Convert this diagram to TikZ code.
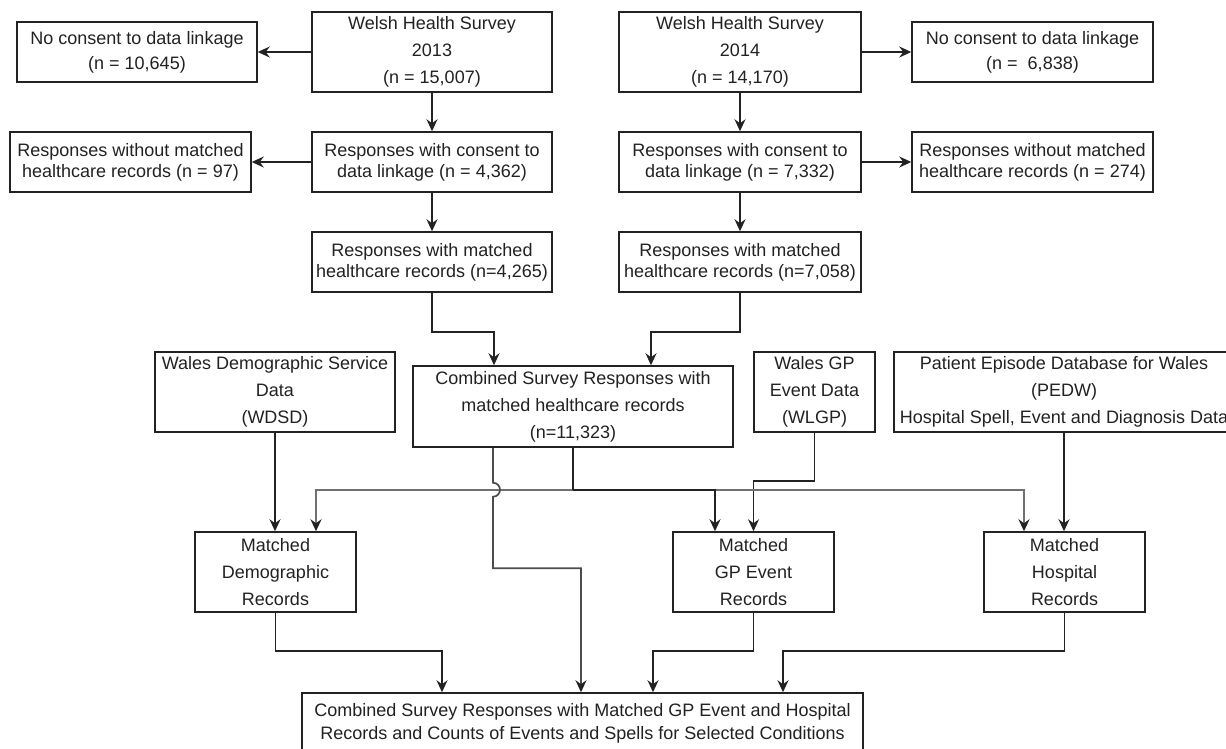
\documentclass[tikz,border=0pt]{standalone}
\usepackage{fontspec}
\setmainfont{Liberation Sans}
\usetikzlibrary{arrows.meta}
\definecolor{ink}{HTML}{222222}
\definecolor{branchgray}{HTML}{707070}
\begin{document}
\begin{tikzpicture}[x=1pt,y=-1pt,
  box/.style={draw=ink, line width=1.5pt, fill=white, inner sep=0pt, align=center, text=ink,
              font=\fontsize{18}{21}\selectfont},
  tall/.style={font=\fontsize{18}{27}\selectfont},
  mid/.style={font=\fontsize{18}{25}\selectfont},
  tip/.style={-{Stealth[length=12pt,width=11pt,inset=4pt,color=ink]}},
  arr/.style={draw=ink, line width=1.6pt, tip},
  branch/.style={draw=branchgray, line width=2.2pt, tip},
  trunkline/.style={draw=ink, line width=2.4pt},
  jumpline/.style={draw=black!70, line width=1.7pt, tip}
]
\useasboundingbox (0,0) rectangle (1226,748);
\clip (0,0) rectangle (1226,748);
\fill[white] (0,0) rectangle (1226,748);

% ---- 2013 column
\node[box, tall, minimum width=240pt, minimum height=80pt] (whs13) at (432,52) {Welsh Health Survey\\2013\\(n = 15,007)};
\node[box, mid, minimum width=240pt, minimum height=60pt] (nc13) at (137,52) {No consent to data linkage\\(n = 10,645)};
\node[box, minimum width=240pt, minimum height=60pt] (rc13) at (432,162) {Responses with consent to\\data linkage (n = 4,362)};
\node[box, minimum width=241pt, minimum height=60pt] (rw13) at (130.5,162) {Responses without matched\\healthcare records (n = 97)};
\node[box, minimum width=240pt, minimum height=60pt] (m13) at (432,262) {Responses with matched\\healthcare records (n=4,265)};

% ---- 2014 column
\node[box, tall, minimum width=242pt, minimum height=80pt] (whs14) at (740,52) {Welsh Health Survey\\2014\\(n = 14,170)};
\node[box, mid, minimum width=241pt, minimum height=60pt] (nc14) at (1032.5,52) {No consent to data linkage\\(n = \ 6,838)};
\node[box, minimum width=242pt, minimum height=60pt] (rc14) at (740,162) {Responses with consent to\\data linkage (n = 7,332)};
\node[box, minimum width=241pt, minimum height=60pt] (rw14) at (1032.5,162) {Responses without matched\\healthcare records (n = 274)};
\node[box, minimum width=242pt, minimum height=60pt] (m14) at (740,262) {Responses with matched\\healthcare records (n=7,058)};

% ---- middle row
\node[box, tall, minimum width=240pt, minimum height=80pt] (wdsd) at (275,392) {Wales Demographic Service\\Data\\(WDSD)};
\node[box, tall, minimum width=320pt, minimum height=81pt] (comb) at (573,406.5) {Combined Survey Responses with\\matched healthcare records\\(n=11,323)};
\node[box, tall, minimum width=121pt, minimum height=80pt] (wlgp) at (814.5,392) {Wales GP\\Event Data\\(WLGP)};
\node[box, tall, minimum width=340pt, minimum height=80pt] (pedw) at (1064,392) {Patient Episode Database for Wales\\(PEDW)\\Hospital Spell, Event and Diagnosis Data};

% ---- matched row
\node[box, tall, minimum width=161pt, minimum height=80pt] (mdemo) at (275.5,572) {Matched\\Demographic\\Records};
\node[box, tall, minimum width=161pt, minimum height=80pt] (mgp) at (753.5,572) {Matched\\GP Event\\Records};
\node[box, tall, minimum width=161pt, minimum height=80pt] (mhosp) at (1064.5,572) {Matched\\Hospital\\Records};

% ---- final
\node[box, font=\fontsize{18}{22.5}\selectfont, minimum width=561pt, minimum height=61pt] (final) at (582.5,723.5) {Combined Survey Responses with Matched GP Event and Hospital\\Records and Counts of Events and Spells for Selected Conditions};

% ---- connectors, top part
\draw[arr] (whs13.west) -- (nc13.east);
\draw[arr] (whs13.south) -- (rc13.north);
\draw[arr] (rc13.west) -- (rw13.east);
\draw[arr] (rc13.south) -- (m13.north);
\draw[arr] (whs14.east) -- (nc14.west);
\draw[arr] (whs14.south) -- (rc14.north);
\draw[arr] (rc14.east) -- (rw14.west);
\draw[arr] (rc14.south) -- (m14.north);

\draw[arr] (m13.south) |- ([xshift=-79pt,yshift=33pt]comb.north) -- ([xshift=-79pt]comb.north);
\draw[arr] (m14.south) |- ([xshift=78pt,yshift=33pt]comb.north) -- ([xshift=78pt]comb.north);

% ---- sources to matched
\draw[arr] (wdsd.south) -- (wdsd.south |- mdemo.north);
\draw[arr] (wlgp.south) |- ([yshift=50pt]mgp.north) -- (mgp.north);
\draw[arr] (pedw.south) -- (pedw.south |- mhosp.north);

% ---- distribution from combined
\coordinate (tr) at ([yshift=-42pt]comb.south);
\draw[branch] (tr) -| ([xshift=40.5pt]mdemo.north);
\draw[branch] (tr) -| ([xshift=-40.5pt]mhosp.north);
\draw[trunkline] (comb.south) -- (tr);
\draw[trunkline, tip] (tr) -| ([xshift=-38.5pt]mgp.north);

% ---- combined straight to final, with line jump
\draw[jumpline] ([xshift=-80pt]comb.south) -- ++(0,35) arc[start angle=-90,end angle=90,radius=7]
   |- ([xshift=-1.5pt,yshift=124pt]final.north) -- ([xshift=-1.5pt]final.north);

% ---- matched to final
\draw[arr] (mdemo.south) |- ([xshift=-140.5pt,yshift=41pt]final.north) -- ([xshift=-140.5pt]final.north);
\draw[arr] (mgp.south) |- ([xshift=70.5pt,yshift=41pt]final.north) -- ([xshift=70.5pt]final.north);
\draw[arr] (mhosp.south) |- ([xshift=200.5pt,yshift=41pt]final.north) -- ([xshift=200.5pt]final.north);
\end{tikzpicture}
\end{document}
